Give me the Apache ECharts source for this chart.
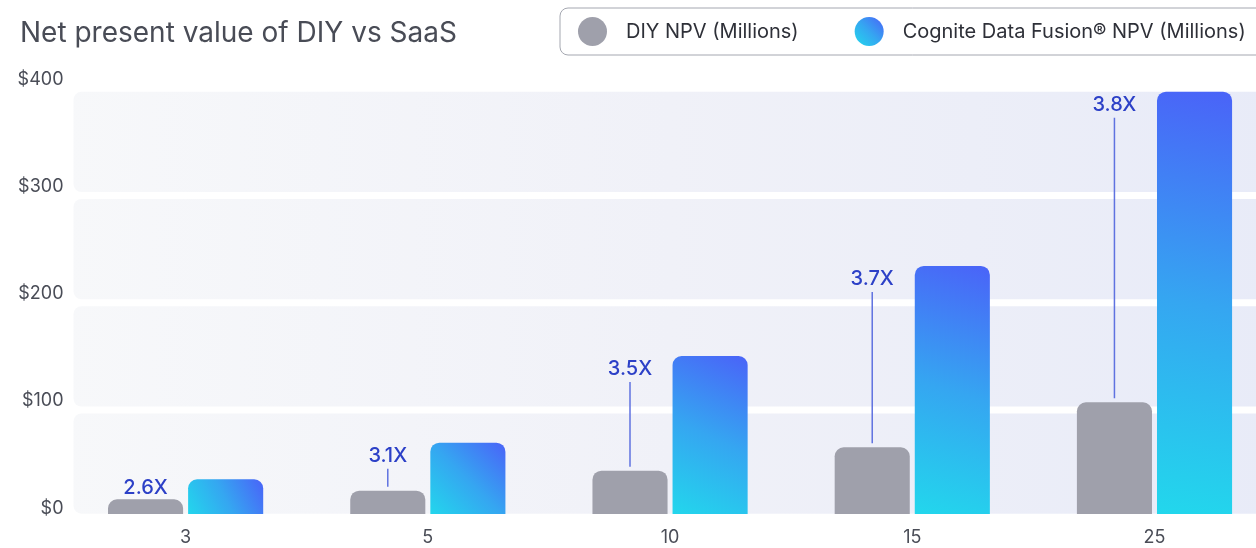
<!DOCTYPE html>
<html>
<head>
<meta charset="utf-8">
<title>Net present value of DIY vs SaaS</title>
<script src="https://cdn.jsdelivr.net/npm/echarts@6/dist/echarts.min.js"></script>
<style>
  html, body { margin: 0; padding: 0; background: #ffffff; }
  #chart { width: 1256px; height: 548px; }
</style>
</head>
<body>
<div id="chart"></div>
<script>
// Years of operation on the x axis
const categories = ['3', '5', '10', '15', '25'];
// Net present value, $ millions
const diyNpv = [16.7, 24.7, 43.4, 65.2, 107.2];
const cdfNpv = [35.3, 69.5, 150.3, 234.3, 396.8];
// Multiplier of Cognite Data Fusion over DIY
const multipliers = ['2.6X', '3.1X', '3.5X', '3.7X', '3.8X'];
// Y axis ticks and shaded bands
const yTicks = [0, 100, 200, 300, 400];
const bandRanges = [[0, 100], [100, 200], [200, 300], [300, 400]];

const FONT = 'Inter, "Noto Sans", sans-serif';
const BAR_WIDTH_PCT = 0.31;   // bar width as share of the category band
const BAR_GAP_PCT = 5 / 75;   // gap between paired bars as share of bar width

const chart = echarts.init(document.getElementById('chart'));

const cdfGradient = new echarts.graphic.LinearGradient(0, 1, 1, 0, [
  { offset: 0, color: '#22d8ec' },
  { offset: 0.5, color: '#35a6f1' },
  { offset: 1, color: '#4a63f8' }
]);

// rounded background bands, one per 100 step on the value axis
function renderBand(params, api) {
  const cs = params.coordSys;
  const yLow = api.coord([0, api.value(1)])[1];
  const yHigh = api.coord([0, api.value(2)])[1];
  const inset = 3.5;
  const left = cs.x + 9;
  return {
    type: 'rect',
    shape: { x: left, y: yHigh + inset, width: cs.width, height: yLow - yHigh - 2 * inset, r: 8 },
    style: {
      fill: new echarts.graphic.LinearGradient(cs.x, 0, cs.x + cs.width, 0, [
        { offset: 0, color: '#f7f8fa' },
        { offset: 0.5, color: '#f0f1f8' },
        { offset: 1, color: '#e8ebf8' }
      ], true)
    },
    silent: true
  };
}

// multiplier label with a leader line down to the DIY bar
function renderMultiplier(params, api) {
  const idx = api.value(0);
  const bandW = api.size([1, 0])[0];
  const barW = bandW * BAR_WIDTH_PCT;
  const offset = (barW + barW * BAR_GAP_PCT) / 2;
  const cx = api.coord([idx, 0])[0] - offset;
  const diyTop = api.coord([idx, api.value(1)])[1];
  const cdfTop = api.coord([idx, api.value(2)])[1];
  const labelY = Math.min(cdfTop + 13, diyTop - 11.6);
  const lineTop = labelY + 13;
  const lineBottom = diyTop - 4;
  const children = [{
    type: 'text',
    style: {
      text: multipliers[params.dataIndex],
      x: cx, y: labelY,
      align: 'center', verticalAlign: 'middle',
      fill: '#2c40c7',
      font: '500 20px ' + FONT
    }
  }];
  if (lineBottom - lineTop > 4) {
    children.push({
      type: 'line',
      shape: { x1: cx, y1: lineTop, x2: cx, y2: lineBottom },
      style: { stroke: '#5f72e0', lineWidth: 1.5 }
    });
  }
  return { type: 'group', children: children };
}

chart.setOption({
  animation: false,
  textStyle: { fontFamily: FONT },
  title: {
    text: 'Net present value of DIY vs SaaS',
    left: 15, top: 15,
    textStyle: { fontFamily: FONT, fontSize: 28, fontWeight: 'normal', color: '#494c56' }
  },
  legend: {
    orient: 'horizontal',
    left: 560, top: 8,
    width: 760,
    padding: [9, 24, 9, 18],
    borderColor: '#a4a7b0', borderWidth: 1, borderRadius: 8,
    backgroundColor: '#ffffff',
    icon: 'circle',
    itemWidth: 29, itemHeight: 29,
    itemGap: 56,
    data: ['DIY NPV (Millions)', 'Cognite Data Fusion® NPV (Millions)'],
    textStyle: { fontFamily: FONT, fontSize: 20, color: '#2e3038', padding: [0, 0, 0, 14] }
  },
  grid: {
    left: 64.5, top: 88.3, bottom: 30.8, right: -19.6,
    outerBoundsMode: 'none', containLabel: false
  },
  xAxis: {
    type: 'category',
    data: categories,
    z: 5,
    axisLine: { show: true, lineStyle: { color: '#ffffff', width: 7 } },
    axisTick: { show: false },
    axisLabel: { color: '#4a4d57', fontSize: 18, fontFamily: FONT, margin: 11 },
    splitLine: { show: false }
  },
  yAxis: {
    type: 'value',
    min: yTicks[0],
    max: yTicks[yTicks.length - 1],
    interval: 100,
    axisLine: { show: false },
    axisTick: { show: false },
    splitLine: { show: false },
    axisLabel: {
      color: '#4a4d57', fontSize: 18, fontFamily: FONT, margin: 1,
      verticalAlign: 'bottom',
      formatter: function (v) { return '$' + v; }
    }
  },
  series: [
    {
      type: 'custom',
      name: 'bands',
      z: 1,
      silent: true,
      clip: false,
      encode: { x: 0, y: [1, 2] },
      data: bandRanges.map(function (r) { return [0, r[0], r[1]]; }),
      renderItem: renderBand,
      tooltip: { show: false }
    },
    {
      type: 'bar',
      name: 'DIY NPV (Millions)',
      z: 2,
      barWidth: (BAR_WIDTH_PCT * 100) + '%',
      barGap: (BAR_GAP_PCT * 100) + '%',
      data: diyNpv,
      itemStyle: { color: '#9fa0ab', borderRadius: [9, 9, 0, 0] }
    },
    {
      type: 'bar',
      name: 'Cognite Data Fusion® NPV (Millions)',
      z: 2,
      barWidth: (BAR_WIDTH_PCT * 100) + '%',
      barGap: (BAR_GAP_PCT * 100) + '%',
      data: cdfNpv,
      itemStyle: { color: cdfGradient, borderRadius: [9, 9, 0, 0] }
    },
    {
      type: 'custom',
      name: 'multiplier',
      z: 3,
      silent: true,
      clip: false,
      encode: { x: 0, y: [1, 2] },
      data: categories.map(function (c, i) { return [i, diyNpv[i], cdfNpv[i]]; }),
      renderItem: renderMultiplier
    }
  ]
});
</script>
</body>
</html>
